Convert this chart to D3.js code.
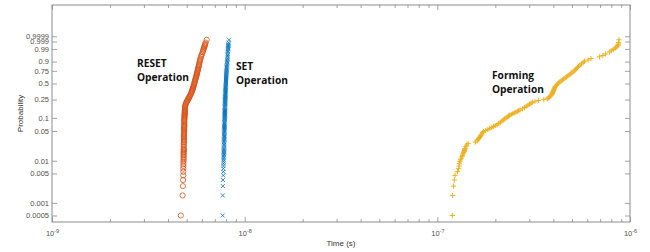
<!DOCTYPE html>
<html>
<head>
<meta charset="utf-8">
<script src="https://cdn.jsdelivr.net/npm/d3@7"></script>
<style>
  body { margin: 0; background: #fff; }
  svg { display: block; }
</style>
</head>
<body>
<div id="chart"></div>
<script>
// --- Data: plotting positions (i-0.5)/1000 shared by the three samples ---
const probLevels = [
  0.0005, 0.0015, 0.0025, 0.0035, 0.0045, 0.0055, 0.0065, 0.0075, 0.0085, 0.0095,
  0.0105, 0.0115, 0.0125, 0.0135, 0.0145, 0.0155, 0.0165, 0.0175, 0.0185, 0.0195,
  0.0215, 0.0235, 0.0255, 0.0275, 0.0295, 0.0315, 0.0335, 0.0355, 0.0375, 0.0395,
  0.0425, 0.0455, 0.0485, 0.0515, 0.0545, 0.0575, 0.0605, 0.0635, 0.0665, 0.0695,
  0.0745, 0.0795, 0.0845, 0.0895, 0.0945, 0.0995, 0.1045, 0.1095, 0.1145, 0.1195,
  0.1245, 0.1295, 0.1345, 0.1395, 0.1445, 0.1495,
  0.1595, 0.1695, 0.1795, 0.1895, 0.1995, 0.2095, 0.2195, 0.2295, 0.2395, 0.2495,
  0.2595, 0.2695, 0.2795, 0.2895, 0.2995,
  0.3145, 0.3295, 0.3445, 0.3595, 0.3745, 0.3895, 0.4045, 0.4195, 0.4345, 0.4495,
  0.4695, 0.4895, 0.5095, 0.5295, 0.5495, 0.5695, 0.5895, 0.6095, 0.6295, 0.6495,
  0.6695, 0.6895, 0.7095, 0.7295, 0.7495, 0.7695, 0.7895, 0.8095, 0.8295, 0.8495,
  0.8695, 0.8895,
  0.9045, 0.9195, 0.9345, 0.9495,
  0.9595, 0.9695, 0.9795,
  0.9845, 0.9885, 0.9915, 0.9935, 0.9955, 0.9965, 0.9975, 0.9985, 0.9995
];

// switching times in ns at each level
const resetNs = [
  4.66, 4.76, 4.78, 4.79, 4.80, 4.80, 4.80, 4.81, 4.81, 4.81,
  4.82, 4.82, 4.82, 4.82, 4.82, 4.82, 4.83, 4.83, 4.83, 4.83,
  4.83, 4.83, 4.83, 4.84, 4.84, 4.84, 4.84, 4.84, 4.84, 4.84,
  4.84, 4.85, 4.85, 4.85, 4.85, 4.85, 4.85, 4.86, 4.86, 4.86,
  4.86, 4.86, 4.86, 4.86, 4.87, 4.87, 4.87, 4.87, 4.88, 4.88,
  4.88, 4.89, 4.89, 4.89, 4.89, 4.89,
  4.90, 4.90, 4.91, 4.92, 4.94, 4.96, 4.99, 5.02, 5.05, 5.08,
  5.10, 5.13, 5.15, 5.18, 5.20,
  5.24, 5.27, 5.29, 5.32, 5.34, 5.36, 5.37, 5.39, 5.41, 5.43,
  5.45, 5.47, 5.49, 5.50, 5.52, 5.54, 5.56, 5.58, 5.60, 5.62,
  5.63, 5.65, 5.66, 5.68, 5.70, 5.72, 5.73, 5.75, 5.77, 5.79,
  5.81, 5.83,
  5.85, 5.87, 5.90, 5.93,
  5.96, 6.00, 6.05,
  6.08, 6.11, 6.14, 6.17, 6.19, 6.22, 6.24, 6.27, 6.35
];

const setNs = [
  7.69, 7.70, 7.71, 7.72, 7.74, 7.75, 7.75, 7.76, 7.76, 7.77,
  7.78, 7.78, 7.79, 7.79, 7.80, 7.80, 7.81, 7.81, 7.81, 7.81,
  7.82, 7.82, 7.82, 7.83, 7.83, 7.83, 7.83, 7.83, 7.84, 7.84,
  7.84, 7.84, 7.84, 7.84, 7.84, 7.85, 7.85, 7.85, 7.85, 7.86,
  7.86, 7.86, 7.87, 7.87, 7.87, 7.88, 7.88, 7.88, 7.89, 7.89,
  7.89, 7.89, 7.89, 7.89, 7.90, 7.90,
  7.90, 7.90, 7.90, 7.91, 7.91, 7.91, 7.92, 7.92, 7.92, 7.92,
  7.93, 7.93, 7.93, 7.93, 7.94,
  7.94, 7.94, 7.95, 7.95, 7.95, 7.96, 7.96, 7.96, 7.97, 7.97,
  7.98, 7.98, 7.99, 7.99, 8.00, 8.00, 8.01, 8.01, 8.02, 8.02,
  8.03, 8.03, 8.04, 8.05, 8.05, 8.06, 8.07, 8.07, 8.08, 8.09,
  8.10, 8.11,
  8.12, 8.13, 8.14, 8.15,
  8.16, 8.17, 8.18,
  8.18, 8.20, 8.21, 8.21, 8.22, 8.23, 8.24, 8.25, 8.29
];

const formingNs = [
  119.6, 120.1, 121.4, 122.5, 123.5, 127.2, 128.9, 129.7, 130.0, 130.9,
  131.9, 133.0, 134.3, 135.2, 136.0, 136.9, 137.7, 138.2, 138.7, 139.2,
  140.5, 142.0, 144.4, 157.4, 161.2, 162.8, 164.1, 165.5, 166.9, 168.3,
  170.1, 171.8, 173.6, 178.2, 183.0, 187.2, 191.7, 195.9, 199.9, 204.0,
  208.2, 212.2, 216.3, 220.0, 223.4, 227.2, 230.7, 234.1, 237.2, 241.7,
  246.4, 250.9, 255.7, 260.0, 264.4, 268.6,
  276.7, 283.4, 289.2, 295.1, 300.8, 306.3, 311.4, 321.3, 334.6, 356.9,
  372.2, 376.7, 380.7, 384.8, 388.5,
  393.2, 395.1, 397.0, 398.9, 400.8, 402.7, 404.2, 406.1, 407.5, 410.5,
  415.9, 421.4, 426.5, 432.1, 438.9, 445.8, 453.3, 460.4, 467.6, 475.5,
  482.9, 490.5, 498.2, 506.6, 512.7, 519.5, 526.3, 533.3, 541.0, 549.5,
  560.1, 571.6,
  580.5, 605.3, 627.4, 693.7,
  723.3, 747.1, 781.8,
  799.7, 818.1, 835.9, 845.9, 859.2, 868.5, 870.6, 872.6, 876.8
];

const yTickProbs = [0.0005, 0.001, 0.005, 0.01, 0.05, 0.1, 0.25, 0.5, 0.75, 0.9, 0.99, 0.999, 0.9999];
const yTickLabels = ["0.0005", "0.001", "0.005", "0.01", "0.05", "0.1", "0.25", "0.5", "0.75", "0.9", "0.99", "0.999", "0.9999"];
const xDecades = [1e-9, 1e-8, 1e-7, 1e-6];
const xDecadeExponents = ["-9", "-8", "-7", "-6"];
const labelLines = [
  ["RESET", "Operation"],
  ["SET", "Operation"],
  ["Forming", "Operation"]
];

// --- Layout ---
const W = 650, H = 252;
const plot = { left: 52, right: 630, top: 5, bottom: 222 };
const axisColor = "#8c8c8c";
const textColor = "#505050";
const tickFont = "'Liberation Sans', Arial, sans-serif";

// weibull probability transform
const wbl = p => Math.log(-Math.log(1 - p));

const x = d3.scaleLog().domain([1e-9, 1e-6]).range([plot.left, plot.right]);
const y = d3.scaleLinear().domain([-7.956, 3.934]).range([plot.bottom, plot.top]);

const svg = d3.select("#chart").append("svg")
  .attr("width", W)
  .attr("height", H);

// minor decade ticks 2..9
const minorTicks = [];
xDecades.slice(0, -1).forEach(d => {
  for (let k = 2; k <= 9; k++) minorTicks.push(d * k);
});

function styleAxis(g) {
  g.select(".domain").remove();
  g.selectAll(".tick line").attr("stroke", axisColor).attr("stroke-width", 0.8);
  g.selectAll(".tick text")
    .attr("fill", textColor)
    .style("font-family", tickFont)
    .style("font-size", "7.5px");
}

// bottom / top major + minor
svg.append("g")
  .attr("transform", `translate(0,${plot.bottom})`)
  .call(d3.axisBottom(x).tickValues(minorTicks).tickSizeInner(-3).tickSizeOuter(0).tickFormat(""))
  .call(styleAxis);
svg.append("g")
  .attr("transform", `translate(0,${plot.top})`)
  .call(d3.axisTop(x).tickValues(minorTicks).tickSizeInner(-3).tickSizeOuter(0).tickFormat(""))
  .call(styleAxis);

const xMajor = svg.append("g")
  .attr("transform", `translate(0,${plot.bottom})`)
  .call(d3.axisBottom(x).tickValues(xDecades).tickSizeInner(-5).tickSizeOuter(0).tickFormat(""))
  .call(styleAxis);
xMajor.selectAll(".tick").each(function (d, i) {
  const t = d3.select(this).append("text")
    .attr("y", 14)
    .attr("text-anchor", "middle")
    .attr("fill", textColor)
    .style("font-family", tickFont)
    .style("font-size", "7.5px");
  t.append("tspan").text("10");
  t.append("tspan").attr("dy", -3).style("font-size", "5.5px").text(xDecadeExponents[i]);
});
svg.append("g")
  .attr("transform", `translate(0,${plot.top})`)
  .call(d3.axisTop(x).tickValues(xDecades).tickSizeInner(-5).tickSizeOuter(0).tickFormat(""))
  .call(styleAxis);

// left / right
svg.append("g")
  .attr("transform", `translate(${plot.left},0)`)
  .call(d3.axisLeft(y).tickValues(yTickProbs.map(wbl)).tickSizeInner(-5).tickSizeOuter(0)
    .tickPadding(3).tickFormat((d, i) => yTickLabels[i]))
  .call(styleAxis);
svg.append("g")
  .attr("transform", `translate(${plot.right},0)`)
  .call(d3.axisRight(y).tickValues(yTickProbs.map(wbl)).tickSizeInner(-5).tickSizeOuter(0).tickFormat(""))
  .call(styleAxis);

// box
svg.append("rect")
  .attr("x", plot.left).attr("y", plot.top)
  .attr("width", plot.right - plot.left)
  .attr("height", plot.bottom - plot.top)
  .attr("fill", "none")
  .attr("stroke", axisColor)
  .attr("stroke-width", 1);

// axis titles
svg.append("text")
  .attr("x", (plot.left + plot.right) / 2)
  .attr("y", 246)
  .attr("text-anchor", "middle")
  .attr("fill", "#333")
  .style("font-family", tickFont)
  .style("font-size", "8px")
  .text("Time (s)");
svg.append("text")
  .attr("transform", `translate(23,${(plot.top + plot.bottom) / 2}) rotate(-90)`)
  .attr("text-anchor", "middle")
  .attr("fill", "#333")
  .style("font-family", tickFont)
  .style("font-size", "8px")
  .text("Probability");

// --- Series ---
const ns = 1e-9;
const resetPts = d3.zip(resetNs, probLevels);
const setPts = d3.zip(setNs, probLevels);
const formingPts = d3.zip(formingNs, probLevels);

svg.append("g").selectAll("circle")
  .data(resetPts)
  .join("circle")
  .attr("cx", d => x(d[0] * ns))
  .attr("cy", d => y(wbl(d[1])))
  .attr("r", 2.6)
  .attr("fill", "none")
  .attr("stroke", "#D95319")
  .attr("stroke-width", 0.8);

svg.append("g").selectAll("path")
  .data(setPts)
  .join("path")
  .attr("transform", d => `translate(${x(d[0] * ns)},${y(wbl(d[1]))})`)
  .attr("d", "M-2,-2L2,2M-2,2L2,-2")
  .attr("stroke", "#0072BD")
  .attr("stroke-width", 0.8);

svg.append("g").selectAll("path")
  .data(formingPts)
  .join("path")
  .attr("transform", d => `translate(${x(d[0] * ns)},${y(wbl(d[1]))})`)
  .attr("d", "M-2.6,0H2.6M0,-2.6V2.6")
  .attr("stroke", "#EDB120")
  .attr("stroke-width", 1);

// --- Annotations ---
const labelPos = [[137, 67], [236, 69.5], [492, 78.5]];
labelLines.forEach((lines, i) => {
  const t = svg.append("text")
    .attr("x", labelPos[i][0])
    .attr("y", labelPos[i][1])
    .attr("fill", "#111")
    .style("font-family", "'Open Sans', sans-serif")
    .style("font-weight", 700)
    .style("font-size", "10.2px");
  lines.forEach((s, j) => {
    t.append("tspan").attr("x", labelPos[i][0]).attr("dy", j ? 14 : 0).text(s);
  });
});
</script>
</body>
</html>
